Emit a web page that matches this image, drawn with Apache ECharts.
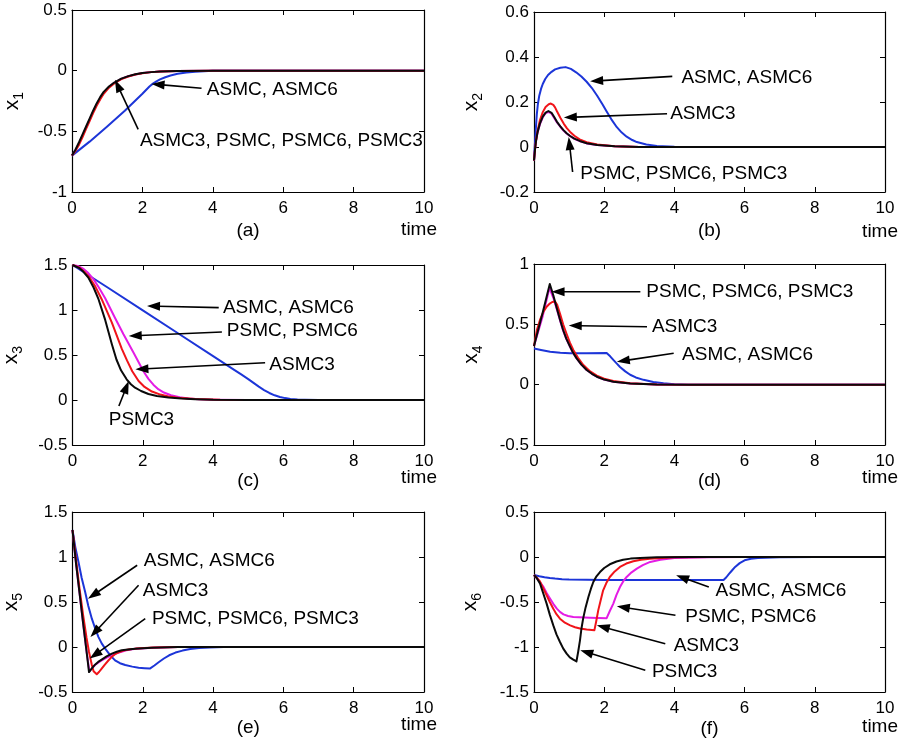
<!DOCTYPE html>
<html>
<head>
<meta charset="utf-8">
<title>x1 - x6 responses</title>
<script src="https://cdn.jsdelivr.net/npm/echarts@6/dist/echarts.min.js"></script>
<style>
html, body { margin: 0; padding: 0; background: #fff; }
#main { width: 904px; height: 740px; }
</style>
</head>
<body>
<div id="main"></div>
<script>
var FONT = 'Liberation Sans, Arial, Helvetica, sans-serif';

// ---- data: [time, value] ----
// (a) x1
var a_ASMC  = [[0,-0.7],[0.5,-0.585],[1,-0.46],[1.5,-0.33],[2,-0.19],[2.2,-0.13],[2.3,-0.107],[2.4,-0.088],[2.5,-0.072],[2.65,-0.054],[2.8,-0.04],[3,-0.026],[3.25,-0.015],[3.5,-0.008],[4,-0.001],[10,0]];
var a_PSMC  = [[0,-0.7],[0.1,-0.655],[0.2,-0.6],[0.3,-0.535],[0.4,-0.47],[0.5,-0.405],[0.6,-0.34],[0.7,-0.28],[0.8,-0.228],[0.9,-0.183],[1.05,-0.135],[1.2,-0.1],[1.4,-0.068],[1.6,-0.046],[1.8,-0.031],[2,-0.02],[2.25,-0.012],[2.5,-0.007],[3,-0.002],[4,0],[10,0]];
var a_ASMC3 = [[0,-0.7],[0.1,-0.66],[0.2,-0.61],[0.3,-0.548],[0.4,-0.48],[0.5,-0.415],[0.6,-0.35],[0.7,-0.29],[0.8,-0.237],[0.9,-0.19],[1.05,-0.14],[1.2,-0.105],[1.4,-0.07],[1.6,-0.048],[1.8,-0.032],[2,-0.021],[2.25,-0.012],[2.5,-0.007],[3,-0.002],[4,0],[10,0]];
var a_PSMC3 = [[0,-0.7],[0.1,-0.65],[0.2,-0.59],[0.3,-0.525],[0.4,-0.46],[0.5,-0.395],[0.6,-0.33],[0.7,-0.27],[0.8,-0.218],[0.9,-0.175],[1.05,-0.13],[1.2,-0.098],[1.4,-0.066],[1.6,-0.045],[1.8,-0.03],[2,-0.02],[2.25,-0.012],[2.5,-0.007],[3,-0.002],[4,0],[10,0]];

// (b) x2
var b_ASMC  = [[0,-0.06],[0.02,0],[0.04,0.05],[0.06,0.1],[0.08,0.145],[0.11,0.19],[0.15,0.228],[0.2,0.258],[0.25,0.28],[0.32,0.302],[0.4,0.32],[0.5,0.334],[0.6,0.345],[0.75,0.352],[0.9,0.355],[1.05,0.347],[1.2,0.332],[1.35,0.313],[1.5,0.29],[1.65,0.262],[1.8,0.228],[1.95,0.19],[2.07,0.158],[2.2,0.124],[2.36,0.088],[2.5,0.064],[2.64,0.046],[2.8,0.031],[2.93,0.022],[3.2,0.011],[3.5,0.005],[4,0.001],[10,0]];
var b_PSMC  = [[0,-0.06],[0.03,-0.01],[0.06,0.03],[0.1,0.063],[0.17,0.102],[0.25,0.132],[0.33,0.15],[0.41,0.156],[0.5,0.148],[0.58,0.128],[0.65,0.11],[0.75,0.09],[0.84,0.073],[0.93,0.06],[1.03,0.048],[1.15,0.036],[1.3,0.026],[1.5,0.016],[1.8,0.009],[2.3,0.003],[3,0],[10,0]];
var b_ASMC3 = [[0,-0.06],[0.03,-0.01],[0.06,0.03],[0.1,0.07],[0.17,0.12],[0.25,0.155],[0.33,0.178],[0.42,0.19],[0.48,0.193],[0.55,0.187],[0.6,0.176],[0.65,0.16],[0.75,0.13],[0.85,0.103],[0.94,0.083],[1.03,0.067],[1.15,0.05],[1.3,0.034],[1.5,0.021],[1.8,0.011],[2.3,0.003],[3,0],[10,0]];
var b_PSMC3 = [[0,-0.06],[0.03,-0.01],[0.06,0.03],[0.1,0.065],[0.17,0.105],[0.25,0.135],[0.33,0.153],[0.41,0.16],[0.5,0.152],[0.58,0.132],[0.65,0.113],[0.75,0.092],[0.84,0.075],[0.93,0.061],[1.03,0.049],[1.15,0.037],[1.3,0.027],[1.5,0.017],[1.8,0.009],[2.3,0.003],[3,0],[10,0]];

// (c) x3
var c_ASMC  = [[0,1.5],[1,1.25],[2,0.995],[3,0.742],[4,0.487],[4.6,0.335],[4.8,0.284],[5,0.232],[5.15,0.19],[5.3,0.148],[5.45,0.11],[5.6,0.078],[5.75,0.052],[5.9,0.034],[6.05,0.021],[6.2,0.012],[6.4,0.006],[6.6,0.003],[7,0],[10,0]];
var c_PSMC  = [[0,1.5],[0.15,1.49],[0.3,1.46],[0.45,1.41],[0.6,1.34],[0.75,1.25],[0.93,1.13],[1.2,0.92],[1.45,0.73],[1.73,0.53],[1.95,0.37],[2.05,0.3],[2.16,0.235],[2.3,0.17],[2.44,0.12],[2.6,0.083],[2.8,0.053],[3.05,0.03],[3.3,0.017],[3.6,0.009],[4,0.004],[5,0],[10,0]];
var c_ASMC3 = [[0,1.5],[0.2,1.47],[0.35,1.42],[0.5,1.35],[0.65,1.26],[0.83,1.12],[1.12,0.859],[1.4,0.57],[1.55,0.44],[1.7,0.32],[1.88,0.211],[2.05,0.145],[2.26,0.094],[2.5,0.06],[2.73,0.04],[3,0.024],[3.5,0.01],[4.2,0.002],[5,0],[10,0]];
var c_PSMC3 = [[0,1.5],[0.2,1.465],[0.3,1.43],[0.45,1.36],[0.6,1.25],[0.74,1.12],[0.93,0.89],[1.12,0.62],[1.25,0.45],[1.38,0.33],[1.54,0.23],[1.66,0.175],[1.78,0.137],[1.95,0.1],[2.16,0.067],[2.4,0.045],[2.73,0.028],[3.1,0.016],[3.49,0.009],[4,0.003],[5,0],[10,0]];

// (d) x4
var d_ASMC  = [[0,0.3],[0.2,0.288],[0.46,0.273],[0.75,0.265],[1.02,0.26],[1.5,0.26],[2.07,0.262],[2.17,0.235],[2.26,0.205],[2.36,0.174],[2.45,0.146],[2.6,0.11],[2.74,0.082],[2.9,0.06],[3.12,0.04],[3.4,0.022],[3.69,0.011],[4,0.004],[4.4,0],[10,0]];
var d_PSMC  = [[0,0.32],[0.25,0.57],[0.44,0.8],[0.55,0.72],[0.65,0.625],[0.74,0.535],[0.83,0.448],[0.92,0.38],[1.02,0.318],[1.11,0.265],[1.21,0.22],[1.35,0.166],[1.5,0.122],[1.65,0.09],[1.79,0.066],[2,0.042],[2.26,0.025],[2.74,0.01],[3.5,0.002],[4.5,0],[10,0]];
var d_ASMC3 = [[0,0.32],[0.08,0.45],[0.17,0.536],[0.26,0.6],[0.36,0.646],[0.45,0.672],[0.52,0.685],[0.6,0.69],[0.66,0.662],[0.74,0.59],[0.83,0.5],[0.93,0.42],[1.02,0.35],[1.12,0.287],[1.25,0.224],[1.4,0.165],[1.6,0.11],[1.79,0.075],[2,0.05],[2.26,0.03],[2.74,0.012],[3.5,0.002],[4.5,0],[10,0]];
var d_PSMC3 = [[0,0.32],[0.25,0.6],[0.45,0.834],[0.55,0.74],[0.65,0.633],[0.74,0.54],[0.83,0.453],[0.92,0.382],[1.02,0.32],[1.11,0.266],[1.21,0.22],[1.35,0.166],[1.5,0.122],[1.65,0.09],[1.79,0.066],[2,0.042],[2.26,0.025],[2.74,0.01],[3.5,0.002],[4.5,0],[10,0]];

// (e) x5
var e_ASMC  = [[0,1.3],[0.08,1.11],[0.17,0.944],[0.26,0.77],[0.36,0.61],[0.45,0.455],[0.55,0.315],[0.65,0.2],[0.74,0.11],[0.83,0.04],[0.93,-0.018],[1.07,-0.09],[1.21,-0.148],[1.35,-0.18],[1.5,-0.2],[1.7,-0.218],[1.88,-0.23],[2.05,-0.236],[2.2,-0.24],[2.33,-0.205],[2.46,-0.167],[2.6,-0.128],[2.75,-0.092],[2.93,-0.062],[3.13,-0.04],[3.35,-0.022],[3.6,-0.012],[3.9,-0.005],[4.3,0],[10,0]];
var e_PSMC  = [[0,1.3],[0.1,0.93],[0.2,0.6],[0.3,0.27],[0.4,-0.05],[0.48,-0.27],[0.56,-0.235],[0.64,-0.2],[0.74,-0.172],[0.83,-0.15],[0.97,-0.118],[1.12,-0.09],[1.27,-0.068],[1.42,-0.05],[1.5,-0.04],[1.65,-0.028],[1.8,-0.02],[2.3,-0.007],[3,0],[10,0]];
var e_ASMC3 = [[0,1.3],[0.1,0.97],[0.2,0.65],[0.3,0.36],[0.4,0.1],[0.47,-0.056],[0.55,-0.2],[0.6,-0.27],[0.69,-0.303],[0.76,-0.275],[0.83,-0.24],[0.92,-0.195],[1.02,-0.15],[1.11,-0.112],[1.21,-0.08],[1.33,-0.057],[1.45,-0.04],[1.6,-0.028],[1.8,-0.018],[2.3,-0.006],[3,0],[10,0]];
var e_PSMC3 = [[0,1.3],[0.1,0.93],[0.2,0.6],[0.3,0.27],[0.4,-0.05],[0.47,-0.278],[0.55,-0.237],[0.64,-0.196],[0.73,-0.166],[0.83,-0.14],[0.97,-0.105],[1.12,-0.074],[1.26,-0.053],[1.4,-0.037],[1.58,-0.027],[1.78,-0.02],[2.25,-0.007],[3,0],[10,0]];

// (f) x6
var f_ASMC  = [[0,-0.2],[0.15,-0.214],[0.3,-0.225],[0.45,-0.234],[0.6,-0.24],[0.8,-0.246],[1,-0.25],[1.5,-0.253],[2,-0.255],[5.4,-0.255],[5.48,-0.225],[5.55,-0.19],[5.64,-0.15],[5.73,-0.11],[5.86,-0.068],[6,-0.037],[6.18,-0.02],[6.38,-0.012],[7,-0.002],[8,0],[10,0]];
var f_PSMC  = [[0,-0.2],[0.13,-0.26],[0.27,-0.333],[0.36,-0.4],[0.46,-0.463],[0.55,-0.52],[0.65,-0.574],[0.74,-0.61],[0.84,-0.637],[0.97,-0.655],[1.12,-0.667],[1.6,-0.675],[2.07,-0.68],[2.16,-0.6],[2.26,-0.518],[2.35,-0.42],[2.45,-0.333],[2.54,-0.272],[2.64,-0.222],[2.78,-0.17],[2.93,-0.13],[3.1,-0.09],[3.31,-0.055],[3.6,-0.03],[4,-0.012],[5,-0.002],[6,0],[10,0]];
var f_ASMC3 = [[0,-0.2],[0.08,-0.23],[0.17,-0.27],[0.26,-0.345],[0.36,-0.425],[0.45,-0.5],[0.55,-0.574],[0.64,-0.635],[0.74,-0.685],[0.88,-0.73],[1.03,-0.76],[1.17,-0.78],[1.31,-0.795],[1.5,-0.806],[1.72,-0.815],[1.77,-0.72],[1.83,-0.593],[1.9,-0.48],[1.97,-0.37],[2.06,-0.29],[2.16,-0.222],[2.3,-0.16],[2.45,-0.111],[2.63,-0.073],[2.83,-0.048],[3.05,-0.031],[3.3,-0.02],[4,-0.004],[5,0],[10,0]];
var f_PSMC3 = [[0,-0.2],[0.08,-0.235],[0.17,-0.293],[0.26,-0.4],[0.36,-0.518],[0.45,-0.64],[0.55,-0.76],[0.64,-0.86],[0.74,-0.944],[0.83,-1.015],[0.93,-1.074],[1.02,-1.115],[1.12,-1.14],[1.21,-1.16],[1.26,-1.05],[1.31,-0.926],[1.35,-0.8],[1.4,-0.685],[1.47,-0.56],[1.55,-0.444],[1.62,-0.355],[1.69,-0.278],[1.78,-0.215],[1.88,-0.167],[2,-0.122],[2.16,-0.081],[2.35,-0.05],[2.54,-0.031],[2.75,-0.018],[3.02,-0.01],[3.5,-0.002],[4.5,0],[10,0]];

// y ranges [min, max, interval]
var a_range = [-1, 0.5, 0.5];
var b_range = [-0.2, 0.6, 0.2];
var c_range = [-0.5, 1.5, 0.5];
var d_range = [-0.5, 1, 0.5];
var e_range = [-0.5, 1.5, 0.5];
var f_range = [-1.5, 0.5, 0.5];
var timeRange = [0, 10, 2];

// arrow notes, in data units: text left-centre at "at", arrow from -> to
var a_notes = [
    {text: 'ASMC, ASMC6', at: [3.83, -0.156], from: [3.68, -0.145], to: [2.26, -0.109]},
    {text: 'ASMC3, PSMC, PSMC6, PSMC3', at: [1.93, -0.58], from: [1.88, -0.484], to: [1.22, -0.074]}
];
var b_notes = [
    {text: 'ASMC, ASMC6', at: [4.2, 0.308], from: [3.94, 0.314], to: [1.6, 0.292]},
    {text: 'ASMC3', at: [3.88, 0.148], from: [3.79, 0.148], to: [0.85, 0.131]},
    {text: 'PSMC, PSMC6, PSMC3', at: [1.32, -0.118], from: [1.1, -0.111], to: [0.99, 0.044]}
];
var c_notes = [
    {text: 'ASMC, ASMC6', at: [4.28, 1.026], from: [4.16, 1.026], to: [2.12, 1.044]},
    {text: 'PSMC, PSMC6', at: [4.39, 0.767], from: [4.25, 0.756], to: [1.6, 0.711]},
    {text: 'ASMC3', at: [5.6, 0.396], from: [5.48, 0.414], to: [1.79, 0.341]},
    {text: 'PSMC3', at: [1.03, -0.215], from: [1.32, -0.067], to: [1.6, 0.211]}
];
var d_notes = [
    {text: 'PSMC, PSMC6, PSMC3', at: [3.2, 0.77], from: [3.03, 0.77], to: [0.5, 0.77]},
    {text: 'ASMC3', at: [3.36, 0.48], from: [3.22, 0.48], to: [0.99, 0.49]},
    {text: 'ASMC, ASMC6', at: [4.22, 0.246], from: [3.98, 0.26], to: [2.36, 0.19]}
];
var e_notes = [
    {text: 'ASMC, ASMC6', at: [2.03, 0.963], from: [1.84, 0.908], to: [0.44, 0.537]},
    {text: 'ASMC3', at: [2.0, 0.63], from: [1.88, 0.686], to: [0.51, 0.111]},
    {text: 'PSMC, PSMC6, PSMC3', at: [2.26, 0.315], from: [2.07, 0.315], to: [0.49, -0.129]}
];
var f_notes = [
    {text: 'ASMC, ASMC6', at: [5.17, -0.37], from: [4.98, -0.333], to: [4.05, -0.203]},
    {text: 'PSMC, PSMC6', at: [4.31, -0.667], from: [4.03, -0.648], to: [2.36, -0.548]},
    {text: 'ASMC3', at: [3.98, -0.981], from: [3.74, -0.963], to: [1.79, -0.759]},
    {text: 'PSMC3', at: [3.36, -1.278], from: [3.17, -1.259], to: [1.32, -1.037]}
];

var colors = {ASMC: '#1c35d8', PSMC: '#e41ce4', ASMC3: '#f0141a', PSMC3: '#0a0a0a'};

// box = [left, top, width, height]
var panels = [
    {tag: '(a)', sub: '1', box: [72, 10, 352, 182], range: a_range, capGap: 29, yGap: 46, timeY: 230,
        lines: {ASMC: a_ASMC, PSMC: a_PSMC, ASMC3: a_ASMC3, PSMC3: a_PSMC3}, notes: a_notes},
    {tag: '(b)', sub: '2', box: [534, 12, 351, 180], range: b_range, capGap: 29, yGap: 49, timeY: 232,
        lines: {ASMC: b_ASMC, PSMC: b_PSMC, ASMC3: b_ASMC3, PSMC3: b_PSMC3}, notes: b_notes},
    {tag: '(c)', sub: '3', box: [72, 265, 352, 180], range: c_range, capGap: 26, yGap: 47, timeY: 478,
        lines: {ASMC: c_ASMC, PSMC: c_PSMC, ASMC3: c_ASMC3, PSMC3: c_PSMC3}, notes: c_notes},
    {tag: '(d)', sub: '4', box: [534, 264, 351, 181], range: d_range, capGap: 22, yGap: 49, timeY: 478,
        lines: {ASMC: d_ASMC, PSMC: d_PSMC, ASMC3: d_ASMC3, PSMC3: d_PSMC3}, notes: d_notes},
    {tag: '(e)', sub: '5', box: [72, 512, 352, 180], range: e_range, capGap: 26, yGap: 47, timeY: 725,
        lines: {ASMC: e_ASMC, PSMC: e_PSMC, ASMC3: e_ASMC3, PSMC3: e_PSMC3}, notes: e_notes},
    {tag: '(f)', sub: '6', box: [534, 512, 351, 180], range: f_range, capGap: 27, yGap: 50, timeY: 727,
        lines: {ASMC: f_ASMC, PSMC: f_PSMC, ASMC3: f_ASMC3, PSMC3: f_PSMC3}, notes: f_notes}
];

var myChart = echarts.init(document.getElementById('main'), null, {renderer: 'canvas'});

var tickStyle = {show: true, inside: true, length: 5, lineStyle: {color: '#000', width: 1}};
var lineStyle = {show: true, onZero: false, lineStyle: {color: '#000', width: 1.2}};

function xAxisOf(i, p, pos) {
    var ax = {
        gridIndex: i, type: 'value', position: pos,
        min: timeRange[0], max: timeRange[1], interval: timeRange[2],
        axisLine: lineStyle, axisTick: tickStyle, splitLine: {show: false},
        axisLabel: {show: pos === 'bottom', color: '#000', fontSize: 17, fontFamily: FONT, margin: 8}
    };
    if (pos === 'bottom') {
        ax.name = p.tag;
        ax.nameLocation = 'middle';
        ax.nameGap = p.capGap;
        ax.nameTextStyle = {color: '#000', fontSize: 19, fontFamily: FONT};
    }
    return ax;
}

function yAxisOf(i, p, pos) {
    var ax = {
        gridIndex: i, type: 'value', position: pos,
        min: p.range[0], max: p.range[1], interval: p.range[2],
        axisLine: lineStyle, axisTick: tickStyle, splitLine: {show: false},
        axisLabel: {show: pos === 'left', color: '#000', fontSize: 17, fontFamily: FONT, margin: 5}
    };
    if (pos === 'left') {
        ax.name = '{x|x}{s|' + p.sub + '}';
        ax.nameLocation = 'middle';
        ax.nameGap = p.yGap;
        ax.nameRotate = 90;
        ax.nameTextStyle = {
            color: '#000',
            rich: {
                x: {fontSize: 21, fontFamily: FONT, color: '#000'},
                s: {fontSize: 14, fontFamily: FONT, color: '#000', padding: [14, 0, 0, 0]}
            }
        };
    }
    return ax;
}

var option = {
    animation: false,
    backgroundColor: '#fff',
    textStyle: {fontFamily: FONT},
    grid: [], xAxis: [], yAxis: [], series: [], graphic: []
};

var order = ['ASMC', 'PSMC', 'ASMC3', 'PSMC3'];

panels.forEach(function (p, i) {
    option.grid.push({left: p.box[0], top: p.box[1], width: p.box[2], height: p.box[3]});
    option.xAxis.push(xAxisOf(i, p, 'bottom'));
    option.xAxis.push(xAxisOf(i, p, 'top'));
    option.yAxis.push(yAxisOf(i, p, 'left'));
    option.yAxis.push(yAxisOf(i, p, 'right'));

    order.forEach(function (key, k) {
        var s = {
            type: 'line', name: key, xAxisIndex: i * 2, yAxisIndex: i * 2,
            data: p.lines[key], showSymbol: false, symbol: 'none',
            smooth: false, silent: true, z: 2 + k,
            lineStyle: {color: colors[key], width: 2, join: 'round'},
            itemStyle: {color: colors[key]}
        };
        // note texts hang on the top (black) curve
        if (key === 'PSMC3') {
            s.markPoint = {
                silent: true, animation: false,
                symbol: 'circle', symbolSize: 0,
                itemStyle: {color: 'rgba(0,0,0,0)'},
                label: {show: true, position: 'right', distance: 0, formatter: '{b}',
                    color: '#000', fontSize: 19, fontFamily: FONT},
                data: p.notes.map(function (n) { return {name: n.text, coord: n.at}; })
            };
        }
        option.series.push(s);
    });

    option.graphic.push({
        type: 'text', silent: true,
        x: p.box[0] + p.box[2] + 13, y: p.timeY,
        style: {text: 'time', fill: '#000', font: '19px ' + FONT,
            align: 'right', verticalAlign: 'middle', textAlign: 'right', textVerticalAlign: 'middle'}
    });
});

myChart.setOption(option);

// arrows: placed through each grid's own scales
var HEAD_LEN = 13, HEAD_HALF = 4.5;
var arrows = [];
panels.forEach(function (p, i) {
    p.notes.forEach(function (n) {
        var a = myChart.convertToPixel({gridIndex: i}, n.from);
        var b = myChart.convertToPixel({gridIndex: i}, n.to);
        var dx = b[0] - a[0], dy = b[1] - a[1];
        var len = Math.sqrt(dx * dx + dy * dy);
        var ux = dx / len, uy = dy / len;
        var bx = b[0] - ux * HEAD_LEN, by = b[1] - uy * HEAD_LEN;
        arrows.push({
            type: 'line', silent: true, z: 50,
            shape: {x1: a[0], y1: a[1], x2: bx + ux * 2, y2: by + uy * 2},
            style: {stroke: '#000', lineWidth: 1.6}
        });
        arrows.push({
            type: 'polygon', silent: true, z: 50,
            shape: {points: [[b[0], b[1]], [bx - uy * HEAD_HALF, by + ux * HEAD_HALF], [bx + uy * HEAD_HALF, by - ux * HEAD_HALF]]},
            style: {fill: '#000'}
        });
    });
});
myChart.setOption({graphic: option.graphic.concat(arrows)});
</script>
</body>
</html>
